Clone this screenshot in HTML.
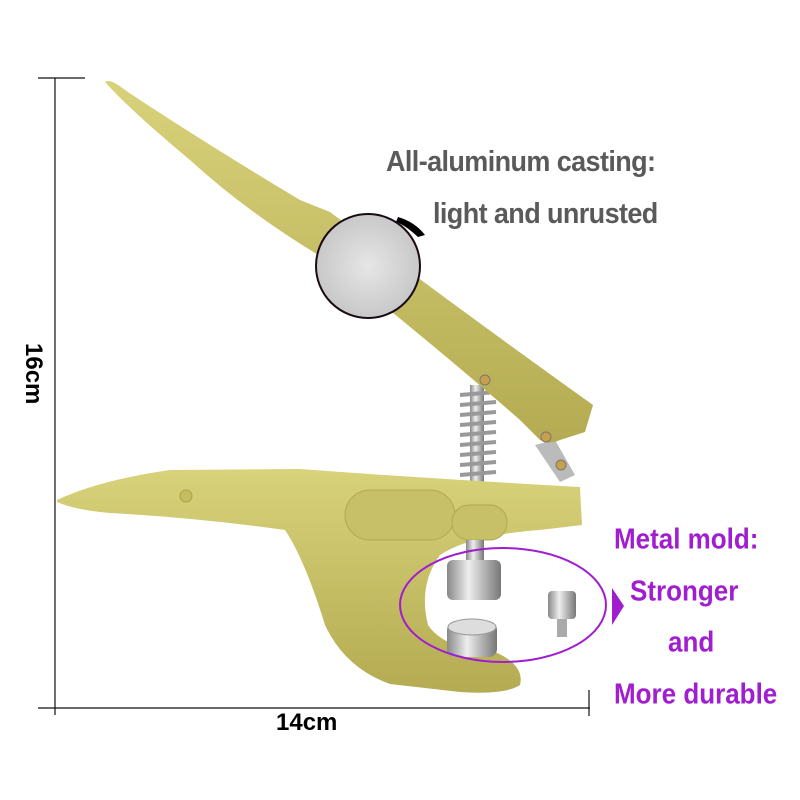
<!DOCTYPE html>
<html><head><meta charset="utf-8"><style>
html,body{margin:0;padding:0;background:#fff;}
body{width:800px;height:800px;position:relative;overflow:hidden;font-family:"Liberation Sans",sans-serif;}
.t{position:absolute;font-weight:bold;white-space:nowrap;transform-origin:0 0;}
</style></head><body>
<svg width="800" height="800" style="position:absolute;left:0;top:0">
<defs>
<linearGradient id="g1" x1="0" y1="0" x2="0" y2="1"><stop offset="0" stop-color="#d8d27a"/><stop offset="1" stop-color="#b4ab52"/></linearGradient>
<linearGradient id="met" x1="0" y1="0" x2="1" y2="0"><stop offset="0" stop-color="#888"/><stop offset=".4" stop-color="#eee"/><stop offset="1" stop-color="#777"/></linearGradient>
<radialGradient id="disc"><stop offset="0" stop-color="#e6e6e6"/><stop offset="1" stop-color="#c8c8c8"/></radialGradient>
</defs>
<g stroke="#111" stroke-width="1.2" fill="none">
<line x1="55" y1="78" x2="55" y2="715"/><line x1="38" y1="78" x2="85" y2="78"/>
<line x1="38" y1="708" x2="590" y2="708"/><line x1="589" y1="690" x2="589" y2="716"/>
</g>
<rect x="470" y="385" width="14" height="110" fill="url(#met)"/>
<g stroke="#999" stroke-width="4">
<line x1="460" y1="395" x2="496" y2="392"/><line x1="460" y1="405" x2="496" y2="402"/><line x1="460" y1="415" x2="496" y2="412"/><line x1="460" y1="425" x2="496" y2="422"/><line x1="460" y1="435" x2="496" y2="432"/><line x1="460" y1="445" x2="496" y2="442"/><line x1="460" y1="455" x2="496" y2="452"/><line x1="460" y1="465" x2="496" y2="462"/><line x1="460" y1="475" x2="496" y2="472"/>
</g>
<polygon points="535,445 555,440 575,475 560,482" fill="#bbb"/>
<path d="M105,82 Q110,78 125,90 Q200,140 300,200 L330,212 Q460,310 593,405 L585,432 L560,440 Q550,445 540,440 L520,420 Q440,350 330,262 Q250,215 190,160 Q130,110 105,82 Z" fill="url(#g1)"/>
<path d="M57,500 Q100,480 170,470 L300,469 Q420,478 580,487 L582,525 L540,530 Q470,535 440,555 Q418,585 428,625 Q445,650 495,652 Q525,665 520,685 Q505,695 460,692 L390,684 Q345,668 325,625 Q305,560 285,530 Q200,518 110,513 Q75,510 57,502 Z" fill="url(#g1)"/>
<rect x="345" y="490" width="110" height="50" rx="25" fill="#c7c068" stroke="#b0a850"/>
<rect x="452" y="505" width="55" height="35" rx="17" fill="#c7c068" stroke="#b0a850"/>
<circle cx="186" cy="496" r="6" fill="#c4bd62" stroke="#a9a14a"/>
<circle cx="485" cy="380" r="5" fill="#c9a04a" stroke="#777"/>
<circle cx="546" cy="437" r="5" fill="#c9a04a" stroke="#777"/>
<circle cx="561" cy="465" r="5" fill="#c9a04a" stroke="#777"/>
<rect x="466" y="540" width="18" height="30" fill="url(#met)"/>
<rect x="447" y="560" width="54" height="40" rx="6" fill="url(#met)"/>
<rect x="447" y="622" width="50" height="35" rx="8" fill="url(#met)"/>
<ellipse cx="472" cy="627" rx="24" ry="8" fill="#ddd" stroke="#999"/>
<rect x="548" y="591" width="28" height="28" rx="4" fill="url(#met)"/>
<rect x="557" y="619" width="10" height="18" fill="#aaa"/>
<ellipse cx="503" cy="605" rx="103" ry="57" fill="none" stroke="#a01ed0" stroke-width="2"/>
<polygon points="612,588 624,606 612,625" fill="#a01ed0"/>
<circle cx="368" cy="266" r="52" fill="url(#disc)" stroke="#1a0a14" stroke-width="2"/>
<path d="M398,217 Q415,222 425,235 L418,237 Q405,225 396,222 Z" fill="#000"/>
</svg>
<div class="t" style="left:386px;top:146px;font-size:27px;color:#5a5a5a;letter-spacing:-0.6px;transform:scaleY(1.05)">All-aluminum casting:</div>
<div class="t" style="left:433px;top:198px;font-size:27px;color:#5a5a5a;letter-spacing:-0.6px;transform:scaleY(1.05)">light and unrusted</div>
<div class="t" style="left:614px;top:522px;font-size:26px;color:#a01ed0;transform:scaleY(1.1)">Metal mold:</div>
<div class="t" style="left:630px;top:574px;font-size:26px;color:#a01ed0;transform:scaleY(1.1)">Stronger</div>
<div class="t" style="left:668px;top:625px;font-size:26px;color:#a01ed0;transform:scaleY(1.1)">and</div>
<div class="t" style="left:614px;top:677px;font-size:26px;color:#a01ed0;transform:scaleY(1.1)">More durable</div>
<div class="t" style="left:276px;top:709px;font-size:24px;color:#000">14cm</div>
<div class="t" style="left:47px;top:343px;font-size:24px;color:#000;transform:rotate(90deg)">16cm</div>
</body></html>
